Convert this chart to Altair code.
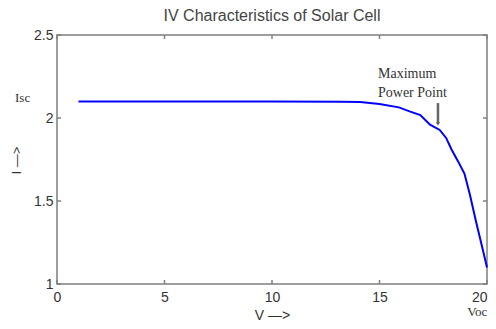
import altair as alt
import pandas as pd

# Curve data
volts = [1, 5, 10, 13.2, 14.1, 15.0, 15.9, 16.4, 16.9, 17.35, 17.8, 18.1, 18.35,
         18.65, 18.95, 19.2, 19.5, 19.8, 20.0]
amps = [2.10, 2.10, 2.10, 2.098, 2.096, 2.084, 2.064, 2.04, 2.018, 1.96, 1.928,
        1.88, 1.81, 1.74, 1.665, 1.54, 1.37, 1.21, 1.10]

x_ticks = [0, 5, 10, 15, 20]
y_ticks = [1, 1.5, 2, 2.5]

# Annotations
ann_serif_text = ["Isc", "Voc", "Maximum", "Power Point"]
ann_serif_x = [-1.6, 19.55, 14.93, 14.93]
ann_serif_y = [2.12, 0.83, 2.265, 2.15]
ann_serif_align = ["center", "center", "left", "left"]

mpp_arrow_x = [17.72]
mpp_arrow_top = [2.09]
mpp_arrow_bottom = [1.965]

X_DOMAIN = [0, 20]
Y_DOMAIN = [1, 2.5]
GRAY = "#7f7f7f"
TEXT = "#333333"

xs = alt.Scale(domain=X_DOMAIN, nice=False, zero=False)
ys = alt.Scale(domain=Y_DOMAIN, nice=False, zero=False)

curve_df = pd.DataFrame({"V": volts, "I": amps})

x_axis = alt.Axis(values=x_ticks, grid=False, ticks=False, domain=False,
                  labelFont="Liberation Sans", labelFontSize=14, labelColor=TEXT,
                  labelPadding=6,
                  labelAlign={"condition": {"test": "datum.value == 20", "value": "right"},
                              "value": "center"},
                  title="V     \u2014>", titleFont="Liberation Sans",
                  titleFontSize=14, titleFontWeight="normal", titleColor=TEXT,
                  titlePadding=4)
y_axis = alt.Axis(values=y_ticks, grid=False, ticks=False, domain=False, format="~g",
                  labelFont="Liberation Sans", labelFontSize=14, labelColor=TEXT,
                  labelPadding=4, title="I     \u2014>", titleFont="Liberation Sans",
                  titleFontSize=13, titleFontWeight="normal", titleColor=TEXT,
                  titleAngle=270, titleX=-41, titleY=125, titleBaseline="middle",
                  titleAlign="center")

curve = alt.Chart(curve_df).mark_line(color="#0000ff", strokeWidth=2).encode(
    x=alt.X("V:Q", scale=xs, axis=x_axis),
    y=alt.Y("I:Q", scale=ys, axis=y_axis),
)

tick_len_y = 0.024
tick_len_x = 0.19
bottom_df = pd.DataFrame({"x": x_ticks, "y": [Y_DOMAIN[0]] * len(x_ticks),
                          "y2": [Y_DOMAIN[0] + tick_len_y] * len(x_ticks)})
top_df = pd.DataFrame({"x": x_ticks, "y": [Y_DOMAIN[1]] * len(x_ticks),
                       "y2": [Y_DOMAIN[1] - tick_len_y] * len(x_ticks)})
left_df = pd.DataFrame({"y": y_ticks, "x": [X_DOMAIN[0]] * len(y_ticks),
                        "x2": [X_DOMAIN[0] + tick_len_x] * len(y_ticks)})
right_df = pd.DataFrame({"y": y_ticks, "x": [X_DOMAIN[1]] * len(y_ticks),
                         "x2": [X_DOMAIN[1] - tick_len_x] * len(y_ticks)})

def vticks(df):
    return alt.Chart(df).mark_rule(color=GRAY, strokeWidth=1.5).encode(
        x=alt.X("x:Q", scale=xs), y=alt.Y("y:Q", scale=ys), y2="y2:Q")

def hticks(df):
    return alt.Chart(df).mark_rule(color=GRAY, strokeWidth=1.5).encode(
        y=alt.Y("y:Q", scale=ys), x=alt.X("x:Q", scale=xs), x2="x2:Q")

ann_df = pd.DataFrame({"t": ann_serif_text, "x": ann_serif_x, "y": ann_serif_y,
                       "a": ann_serif_align})
ann_center = alt.Chart(ann_df[ann_df.a == "center"]).mark_text(
    font="Liberation Serif", fontSize=13, color=TEXT, align="center",
    baseline="middle").encode(x=alt.X("x:Q", scale=xs), y=alt.Y("y:Q", scale=ys),
                              text="t:N")
ann_left = alt.Chart(ann_df[ann_df.a == "left"]).mark_text(
    font="Liberation Serif", fontSize=14, color=TEXT, align="left",
    baseline="middle").encode(x=alt.X("x:Q", scale=xs), y=alt.Y("y:Q", scale=ys),
                              text="t:N")

arrow_df = pd.DataFrame({"x": mpp_arrow_x, "y": mpp_arrow_top, "y2": mpp_arrow_bottom})
arrow = alt.Chart(arrow_df).mark_rule(color="#666666", strokeWidth=2.5).encode(
    x=alt.X("x:Q", scale=xs), y=alt.Y("y:Q", scale=ys), y2="y2:Q")
arrow_head = alt.Chart(arrow_df).mark_point(
    shape="triangle-down", filled=True, color="#666666", size=18, opacity=1).encode(
    x=alt.X("x:Q", scale=xs), y=alt.Y("y2:Q", scale=ys))

chart = alt.layer(
    vticks(bottom_df), vticks(top_df), hticks(left_df), hticks(right_df),
    curve, ann_center, ann_left, arrow, arrow_head,
).properties(
    width=430, height=249, background="white",
    title=alt.TitleParams("IV Characteristics of Solar Cell", font="Liberation Sans",
                          fontSize=16, fontWeight="normal", color="#444444",
                          anchor="middle", offset=4),
    autosize=alt.AutoSizeParams(type="none"),
    padding={"left": 49, "top": 27, "right": 1, "bottom": 37},
).configure_view(
    stroke=GRAY, strokeWidth=1.5,
)

chart.save("out.html", embed_options={"renderer": "svg", "actions": False})
